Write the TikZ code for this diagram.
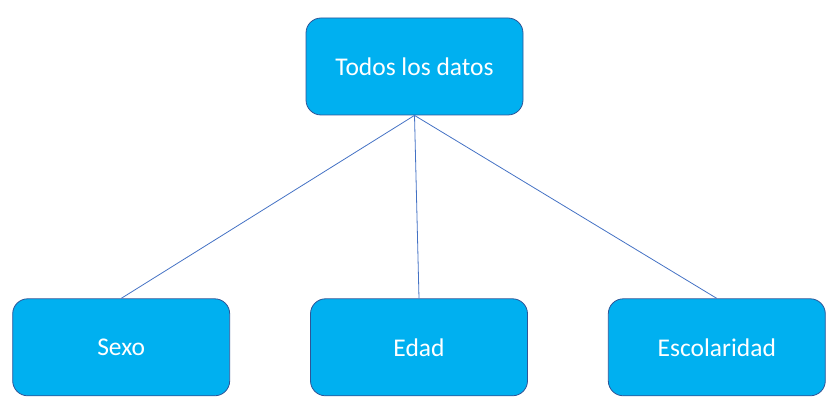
\documentclass[tikz,border=0pt]{standalone}
\usepackage{fontspec}
\setmainfont{Carlito}
\usetikzlibrary{positioning}
\definecolor{boxfill}{HTML}{00B0F0}
\definecolor{boxline}{HTML}{2F5597}
\definecolor{linkline}{HTML}{4472C4}
\begin{document}
\begin{tikzpicture}[x=1pt, y=-1pt, font=\fontsize{25.5}{30}\selectfont, node distance=183pt and 80pt,
  box/.style={draw=boxline, line width=0.8pt, fill=boxfill, text=white, rounded corners=15pt,
    minimum width=217pt, minimum height=97pt, align=center},
  link/.style={draw=linkline, line width=0.8pt}]
\useasboundingbox (0,0) rectangle (836,411);
\node[box] (todos) at (414.5,66.5) {Todos los datos};
\node[box, below=of todos, xshift=4.5pt] (edad) {Edad};
\node[box, left=of edad] (sexo) {Sexo};
\node[box, right=of edad] (escol) {Escolaridad};
\draw[link] (todos.south) -- (sexo.north);
\draw[link] (todos.south) -- (edad.north);
\draw[link] (todos.south) -- (escol.north);
\end{tikzpicture}
\end{document}
